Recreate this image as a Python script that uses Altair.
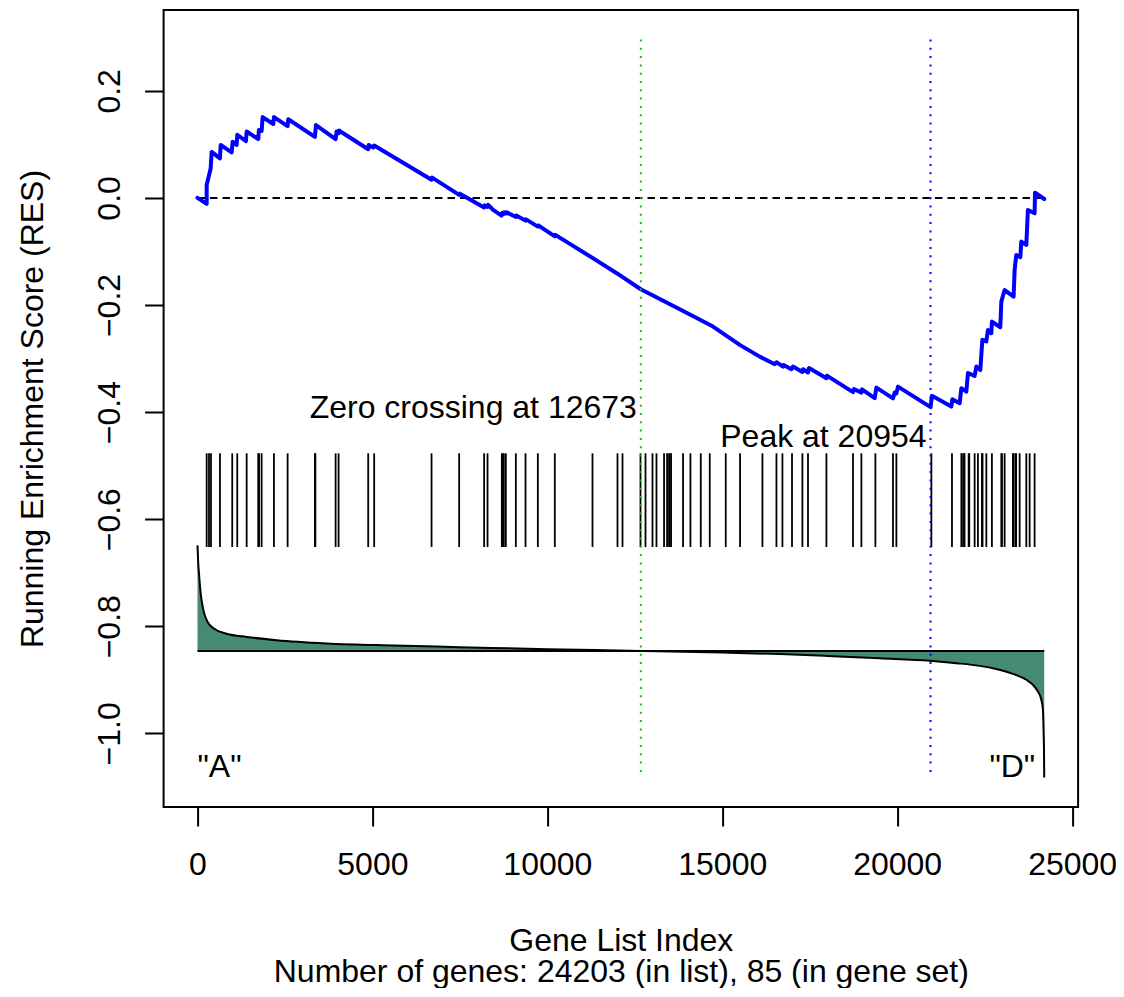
import altair as alt
import pandas as pd

N_GENES = 24203
N_IN_SET = 85
ZERO_CROSSING = 12673
PEAK_INDEX = 20954

# Running enrichment score (vertices)
RES_INDEX = [0, 263, 263, 377, 406, 643, 663, 977, 1006, 1120, 1137, 1386, 1406,
             1737, 1757, 1834, 1863, 2166, 2186, 2577, 2594, 3357, 3386, 3949, 3977,
             4034, 4043, 4880, 4894, 5023, 5051, 6691, 6709, 7480, 7500, 8194, 8214,
             8291, 8309, 8451, 8691, 8709, 8757, 8771, 8834, 8843, 9100, 9114, 9377,
             9391, 9729, 9743, 10214, 10229, 11291, 12006, 12670, 13786, 14737, 15500,
             16071, 16500, 16549, 16737, 16751, 16977, 17023, 17291, 17309, 17451,
             17480, 17977, 17991, 18737, 18766, 18977, 18994, 19357, 19406, 19880,
             19929, 19977, 20023, 20954, 20994, 21549, 21577, 21786, 21834, 21977,
             22023, 22214, 22263, 22377, 22434, 22548, 22594, 22691, 22708, 22948,
             22977, 23071, 23328, 23357, 23405, 23520, 23548, 23691, 23737, 23928,
             23940, 24203]
RES_SCORE = [0.0, -0.011, 0.024, 0.055, 0.086, 0.074, 0.099, 0.085, 0.105, 0.099, 0.118,
             0.106, 0.124, 0.110, 0.127, 0.125, 0.151, 0.138, 0.151, 0.134, 0.147,
             0.114, 0.136, 0.110, 0.124, 0.121, 0.126, 0.091, 0.099, 0.094, 0.098,
             0.034, 0.038, 0.0056, 0.008, -0.0177, -0.014, -0.0168, -0.013, -0.0224,
             -0.033, -0.028, -0.030, -0.027, -0.029, -0.027, -0.0355, -0.0327, -0.0424,
             -0.040, -0.0536, -0.0514, -0.0719, -0.069, -0.112, -0.1415, -0.1705,
             -0.208, -0.2403, -0.2745, -0.2964, -0.3106, -0.307, -0.315, -0.312,
             -0.320, -0.315, -0.325, -0.320, -0.326, -0.3176, -0.3367, -0.332,
             -0.3628, -0.357, -0.3636, -0.3576, -0.374, -0.3543, -0.3744, -0.3636,
             -0.365, -0.3524, -0.3908, -0.3697, -0.3897, -0.3759, -0.3834, -0.3554,
             -0.3617, -0.327, -0.3324, -0.315, -0.3212, -0.265, -0.268, -0.2465,
             -0.2527, -0.231, -0.2415, -0.1937, -0.172, -0.1843, -0.1345, -0.1064,
             -0.1107, -0.0816, -0.0878, -0.0224, -0.0286, 0.0099, -0.002]

# Positions of the gene-set members in the ranked list
HIT_INDEX = [263, 329, 386, 643, 994, 1137, 1406, 1737, 1760, 1834, 2186, 2577, 3357,
             3370, 3949, 4034, 4880, 5051, 6691, 7480, 8194, 8291, 8700, 8729, 8757,
             8814, 9100, 9377, 9729, 10214, 11291, 12006, 12149, 12663, 12806, 13006,
             13120, 13337, 13423, 13480, 13500, 13537, 13880, 14091, 14386, 14643,
             15100, 15509, 16149, 16549, 16720, 16994, 17291, 17451, 17977, 18737,
             18977, 19377, 19880, 19977, 20977, 21566, 21834, 21850, 21908, 21925,
             22043, 22060, 22214, 22308, 22423, 22440, 22548, 22708, 22977, 22995,
             23071, 23308, 23330, 23386, 23400, 23500, 23691, 23786, 23928]
HIT_TOP = -0.477
HIT_BOTTOM = -0.652

# Ranked list metric (scaled into the plot)
RANK_INDEX = [1, 20, 43, 91, 166, 309, 500, 834, 1406, 2263, 3691, 5594, 7500, 10000,
              12673, 15000, 16643, 18000, 19500, 20929, 21700, 22357, 22834, 23309,
              23691, 23880, 24023, 24120, 24166, 24186, 24198, 24203]
RANK_VALUE = [-0.649, -0.680, -0.701, -0.738, -0.769, -0.794, -0.8055, -0.814, -0.820,
              -0.826, -0.832, -0.836, -0.839, -0.843, -0.846, -0.849, -0.852, -0.8555,
              -0.860, -0.8646, -0.869, -0.874, -0.880, -0.889, -0.900, -0.9094,
              -0.922, -0.9374, -0.956, -0.999, -1.04, -1.0825]
RANK_BASELINE = -0.846

Y_DATA_MIN = -1.0825
Y_DATA_MAX = 0.2959

X_TICKS = [0, 5000, 10000, 15000, 20000, 25000]
Y_TICKS = [-1.0, -0.8, -0.6, -0.4, -0.2, 0.0, 0.2]

X_DOMAIN = [-968, 25171]
Y_DOMAIN = [-1.1376, 0.3510]

FONT = "Liberation Sans"
FS = 32
PLOT_W = 914.5

xs = alt.Scale(domain=X_DOMAIN, nice=False, zero=False)
ys = alt.Scale(domain=Y_DOMAIN, nice=False, zero=False)

x_axis = alt.Axis(values=X_TICKS, format="d",
                  title=["Gene List Index",
                         f"Number of genes: {N_GENES} (in list), {N_IN_SET} (in gene set)"],
                  titleX=PLOT_W / 2, titleY=144, titleBaseline="alphabetic",
                  titleAlign="center",
                  titleLineHeight=30.5, titleFontSize=FS, titleFontWeight="normal",
                  titleColor="black", titleFont=FONT,
                  labelFontSize=FS, labelColor="black", labelFont=FONT, labelPadding=49,
                  labelBaseline="alphabetic", labelFlush=False, labelOverlap=False,
                  tickSize=19, tickWidth=2, tickColor="black", domain=False, grid=False)
y_axis = alt.Axis(values=Y_TICKS, format=".1f", title="Running Enrichment Score (RES)",
                  titleAngle=270, titleX=-121, titleY=398.5, titleBaseline="alphabetic",
                  titleAlign="center", titleFontSize=FS, titleFontWeight="normal",
                  titleColor="black", titleFont=FONT,
                  labelAngle=270, labelAlign="center", labelBaseline="alphabetic",
                  labelPadding=24.6, labelFontSize=FS, labelColor="black", labelFont=FONT,
                  labelFlush=False, labelOverlap=False,
                  tickSize=19, tickWidth=2, tickColor="black", domain=False, grid=False)


def X(f):
    return alt.X(f"{f}:Q", scale=xs, axis=x_axis)


def Y(f):
    return alt.Y(f"{f}:Q", scale=ys, axis=y_axis)


res_df = pd.DataFrame({"x": RES_INDEX, "y": RES_SCORE, "o": list(range(len(RES_INDEX)))})
hit_df = pd.DataFrame({"x": HIT_INDEX, "y": [HIT_TOP] * len(HIT_INDEX),
                       "y2": [HIT_BOTTOM] * len(HIT_INDEX)})
rank_df = pd.DataFrame({"x": RANK_INDEX, "y": RANK_VALUE,
                        "base": [RANK_BASELINE] * len(RANK_INDEX)})
base_df = pd.DataFrame({"x": [1], "x2": [N_GENES], "y": [RANK_BASELINE]})
zero_df = pd.DataFrame({"x": [1], "x2": [N_GENES], "y": [0.0]})
vl_df = pd.DataFrame({"x": [ZERO_CROSSING, PEAK_INDEX], "y": [Y_DATA_MAX, Y_DATA_MAX],
                      "y2": [Y_DATA_MIN, Y_DATA_MIN], "c": ["#00CD00", "#0000FF"]})
ann_df = pd.DataFrame({"x": [ZERO_CROSSING, PEAK_INDEX],
                       "y": [-0.3897, -0.444],
                       "t": [f"Zero crossing at {ZERO_CROSSING}", f"Peak at {PEAK_INDEX}"]})
a_df = pd.DataFrame({"x": [1], "y": [Y_DATA_MIN], "t": ['"A"']})
d_df = pd.DataFrame({"x": [N_GENES], "y": [Y_DATA_MIN], "t": ['"D"']})

rank_area = alt.Chart(rank_df).mark_area(color="#458B74", opacity=1,
                                         interpolate="monotone").encode(
    x=X("x"), y=Y("y"), y2=alt.Y2("base:Q"))
rank_line = alt.Chart(rank_df).mark_line(color="black", strokeWidth=2,
                                         interpolate="monotone").encode(
    x=X("x"), y=Y("y"))
base_rule = alt.Chart(base_df).mark_rule(color="black", strokeWidth=2).encode(
    x=X("x"), x2=alt.X2("x2:Q"), y=Y("y"))
hits = alt.Chart(hit_df).mark_rule(color="black", strokeWidth=1.8).encode(
    x=X("x"), y=Y("y"), y2=alt.Y2("y2:Q"))
zero_rule = alt.Chart(zero_df).mark_rule(color="black", strokeWidth=2,
                                         strokeDash=[7.5, 5]).encode(
    x=X("x"), x2=alt.X2("x2:Q"), y=Y("y"))
res_line = alt.Chart(res_df).mark_line(color="#0000FF", strokeWidth=4, strokeCap="round",
                                       strokeJoin="round").encode(
    x=X("x"), y=Y("y"), order=alt.Order("o:Q"))
vlines = alt.Chart(vl_df).mark_rule(strokeWidth=2, strokeDash=[2, 6.3]).encode(
    x=X("x"), y=Y("y"), y2=alt.Y2("y2:Q"), color=alt.Color("c:N", scale=None))
ann = alt.Chart(ann_df).mark_text(align="right", baseline="alphabetic", dx=-4, dy=11.5,
                                  font=FONT, fontSize=FS, color="black").encode(
    x=X("x"), y=Y("y"), text="t:N")
a_txt = alt.Chart(a_df).mark_text(align="left", baseline="alphabetic", dx=0,
                                  font=FONT, fontSize=FS, color="black").encode(
    x=X("x"), y=Y("y"), text="t:N")
d_txt = alt.Chart(d_df).mark_text(align="right", baseline="alphabetic", dx=-9,
                                  font=FONT, fontSize=FS, color="black").encode(
    x=X("x"), y=Y("y"), text="t:N")

chart = alt.layer(rank_area, rank_line, base_rule, hits, zero_rule, res_line, vlines,
                  ann, a_txt, d_txt).properties(
    width=PLOT_W, height=797,
    padding={"left": 155.6, "top": 2, "right": 37.8, "bottom": 181},
    autosize=alt.AutoSizeParams(type="none"),
    background="white",
).configure(font=FONT).configure_view(stroke="black", strokeWidth=2)

chart.save("out.html", embed_options={"renderer": "svg", "actions": False})
